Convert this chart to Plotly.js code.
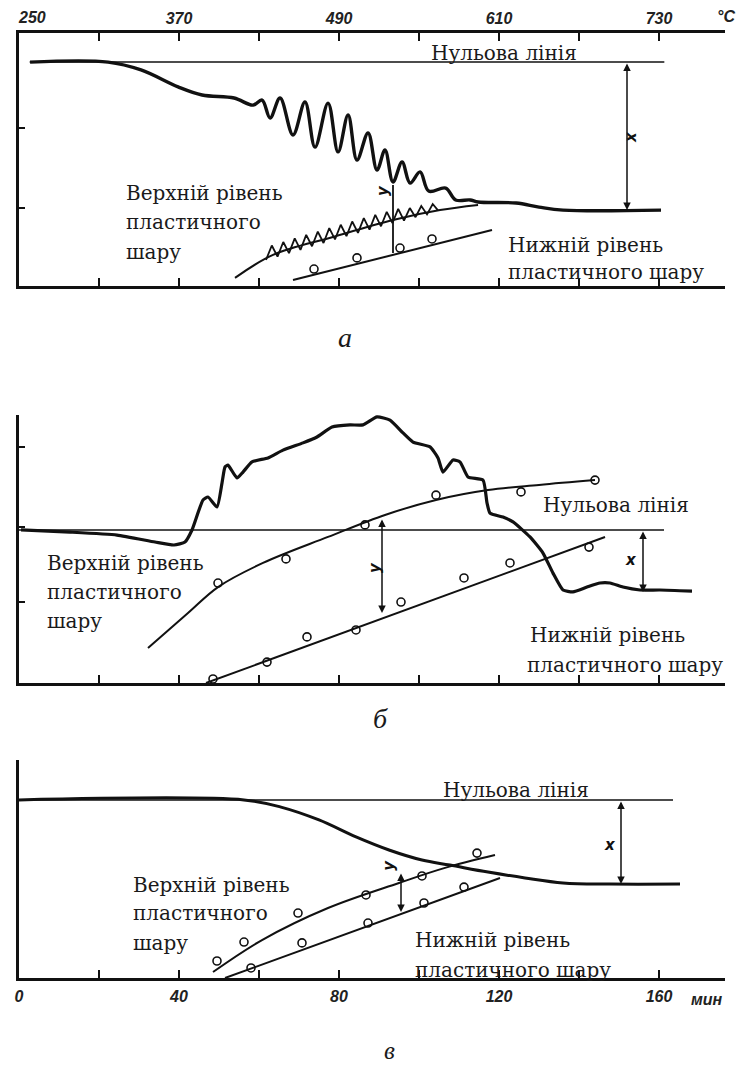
<!DOCTYPE html>
<html><head><meta charset="utf-8">
<script src="https://cdn.plot.ly/plotly-3.0.1.min.js"></script>
<style>html,body{margin:0;padding:0;background:#fff}#chart{width:736px;height:1070px}</style>
</head><body><div id="chart"></div>
<script>
// ---------- Panel а (x: temperature, °C; y: relative level 0–100) ----------
const aTopTickVals = [250, 370, 490, 610, 730];
const aTopTickText = ['', '370', '490', '610', '730'];
const aFirstTickText = '250';
const aLeftTicks = [31, 62.5];
const aZeroT = [258, 734];
const aZeroY = [88.5, 88.5];
const aCurveT = [258.3, 316.8, 341.5, 369.3, 387.3, 411.3, 425.5, 432.3, 438.3, 445.8, 455.5, 464.5, 472, 481.8, 489.3, 496.8, 503.5, 511.8, 518.5, 524.5, 530.5, 537.3, 543.3, 550.8, 557.3, 570, 577.5, 588.3, 594.3, 622.8, 640, 658, 731.5];
const aCurveY = [88.5, 88.5, 85.4, 78.7, 75.5, 74.3, 71.5, 73.5, 66.4, 74.3, 59.7, 72.7, 54.9, 72.3, 53.0, 67.6, 49.8, 60.5, 45.8, 53.8, 41.1, 49.0, 40.7, 45.1, 37.5, 38.7, 34.0, 34.0, 33.2, 32.8, 31.2, 30.0, 30.0];
const aUpperT = [412, 440.5, 485.5, 530.5, 565.8, 594.3];
const aUpperY = [3.2, 12.3, 19.4, 26.1, 30.0, 32.0];
const aZigT = [435.25, 439.6, 443.9, 448.2, 452.5, 456.8, 461.1, 465.4, 469.75, 474.1, 478.4, 482.7, 487, 491.3, 495.6, 499.9, 504.25, 508.6, 512.9, 517.2, 521.5, 525.8, 530.1, 534.4, 538.75, 543.1, 547.4, 551.7, 556, 560.3, 564.25];
const aZigY = [10.3, 16.0, 11.6, 17.4, 13.0, 18.8, 14.3, 20.2, 15.7, 21.5, 17.0, 22.9, 18.4, 24.2, 19.7, 25.5, 21.0, 26.8, 22.3, 28.1, 23.6, 29.3, 24.9, 30.5, 25.8, 30.8, 27.2, 31.6, 28.3, 32.4, 29.9];
const aLowerT = [455.5, 604.75];
const aLowerY = [2.4, 22.1];
const aLowerPtsT = [471.25, 503.5, 535.75, 559.75];
const aLowerPtsY = [6.7, 11.1, 15.0, 18.6];
const aYMarkT = [530.5, 530.5];
const aYMarkY = [13.0, 39.9];

// ---------- Panel б ----------
const bLeftTicks = [30.2, 58.2, 88.1];
const bZeroT = [250, 733.75];
const bZeroY = [57.1, 57.1];
const bCurveT = [251.5, 288.25, 323.5, 352, 366.25, 374.5, 379.75, 388, 391.75, 398.5, 402.25, 404.5, 406.75, 413.5, 418, 424.75, 436.75, 448, 463, 473.5, 484.75, 498.25, 508, 518.5, 528.25, 538, 545.5, 558.25, 564.25, 568, 575.5, 580.75, 586.75, 598, 601, 603.25, 613, 620.5, 633.25, 643, 650.5, 658, 665.5, 676, 685.75, 693.25, 703, 715.75, 730.75, 754.75];
const bCurveY = [57.1, 56.3, 55.2, 52.6, 51.5, 52.6, 57.1, 68.3, 69.4, 65.7, 74.6, 80.6, 81.3, 76.5, 78.7, 82.5, 84.0, 86.9, 89.6, 91.8, 95.5, 96.3, 96.3, 99.3, 98.1, 93.3, 89.9, 88.1, 84.0, 78.7, 83.2, 82.5, 76.9, 75.7, 67.2, 63.4, 61.9, 60.1, 54.5, 48.5, 41.0, 34.7, 34.0, 35.8, 37.3, 37.3, 35.8, 34.7, 34.7, 34.3];
const bUpperT = [346.75, 376.75, 399.25, 433, 481.75, 524.5, 562.75, 601.75, 640, 682];
const bUpperY = [13.1, 26.1, 35.8, 44.8, 54.5, 62.7, 68.3, 72.0, 73.9, 75.7];
const bUpperPtsT = [399.25, 450.25, 509.5, 562.75, 626.5, 682];
const bUpperPtsY = [37.3, 46.3, 59.0, 70.1, 71.3, 75.7];
const bLowerT = [390.25, 689.5];
const bLowerY = [0, 54.5];
const bLowerPtsT = [395.5, 436, 466, 502.75, 536.5, 583.75, 618.25, 677.5];
const bLowerPtsY = [1.5, 7.8, 17.2, 19.8, 30.2, 39.2, 44.8, 50.7];

// ---------- Panel в (x: time, min) ----------
const cTickVals = [0, 20, 40, 60, 80, 100, 120, 140, 160];
const cTickText = ['0', '', '40', '', '80', '', '120', '', '160'];
const cZeroT = [0, 163.5];
const cZeroY = [81.7, 81.7];
const cCurveT = [0, 56.25, 65.5, 75, 84.25, 92.5, 100.75, 107.75, 117.25, 126.5, 136, 147.75, 165.25];
const cCurveY = [81.7, 81.7, 78.4, 72.5, 64.7, 58.7, 54.1, 51.8, 48.6, 45.9, 43.6, 43.1, 43.1];
const cUpperT = [48.5, 60.75, 77.25, 95, 106.5, 119];
const cUpperY = [2.75, 17.4, 32.1, 43.6, 50.5, 56.4];
const cUpperPtsT = [49.5, 56.25, 69.75, 86.75, 100.75, 114.5];
const cUpperPtsY = [7.8, 16.5, 29.8, 38.1, 46.8, 57.3];
const cLowerT = [51.5, 120.25];
const cLowerY = [0, 45.9];
const cLowerPtsT = [58, 70.75, 87.25, 101.25, 111.25];
const cLowerPtsY = [4.6, 16.1, 25.2, 34.4, 41.7];

const ink = '#111';
const W = 736, H = 1070;
const px = v => v / W, py = v => 1 - v / H;

function ln(x, y, xa, ya, w, smooth) {
  return {x, y, xaxis: xa, yaxis: ya, mode: 'lines', hoverinfo: 'skip',
    line: {color: ink, width: w, shape: smooth ? 'spline' : 'linear', smoothing: smooth || 0}};
}
function pts(x, y, xa, ya) {
  return {x, y, xaxis: xa, yaxis: ya, mode: 'markers', hoverinfo: 'skip',
    marker: {symbol: 'circle-open', size: 8, color: ink, line: {width: 1.6, color: ink}}};
}

const traces = [
  ln(aZeroT, aZeroY, 'x4', 'y', 1.5),
  ln(aCurveT, aCurveY, 'x', 'y', 3.4, 1),
  ln(aUpperT, aUpperY, 'x', 'y', 2, 1),
  ln(aZigT, aZigY, 'x', 'y', 1.8),
  ln(aLowerT, aLowerY, 'x', 'y', 2),
  pts(aLowerPtsT, aLowerPtsY, 'x', 'y'),
  ln(aYMarkT, aYMarkY, 'x', 'y', 1.8),

  ln(bZeroT, bZeroY, 'x2', 'y2', 1.5),
  ln(bCurveT, bCurveY, 'x2', 'y2', 3.2, 0.5),
  ln(bUpperT, bUpperY, 'x2', 'y2', 2, 1),
  pts(bUpperPtsT, bUpperPtsY, 'x2', 'y2'),
  ln(bLowerT, bLowerY, 'x2', 'y2', 2),
  pts(bLowerPtsT, bLowerPtsY, 'x2', 'y2'),

  ln(cZeroT, cZeroY, 'x3', 'y3', 1.5),
  ln(cCurveT, cCurveY, 'x3', 'y3', 3, 1),
  ln(cUpperT, cUpperY, 'x3', 'y3', 2, 1),
  pts(cUpperPtsT, cUpperPtsY, 'x3', 'y3'),
  ln(cLowerT, cLowerY, 'x3', 'y3', 2),
  pts(cLowerPtsT, cLowerPtsY, 'x3', 'y3')
];

const xDom = [px(19), px(725)];
const tickFont = {family: 'Liberation Sans', style: 'italic', weight: 'bold', size: 16, color: '#222'};
const baseAx = {showline: true, linewidth: 3, linecolor: ink, showgrid: false, zeroline: false,
  ticks: 'inside', tickcolor: ink, tickwidth: 2, showticklabels: false, fixedrange: true};

const layout = {
  width: W, height: H, margin: {l: 0, r: 0, t: 0, b: 0},
  paper_bgcolor: '#fff', plot_bgcolor: 'rgba(0,0,0,0)', showlegend: false,
  font: {family: 'DejaVu Serif', color: '#1a1a1a'},
  xaxis: Object.assign({}, baseAx, {domain: xDom, range: [250, 779.5], anchor: 'y', mirror: 'ticks', tick0: 250, dtick: 60, ticklen: 8}),
  xaxis4: {overlaying: 'x', side: 'top', anchor: 'y', range: [250, 779.5], tickmode: 'array',
    tickvals: aTopTickVals, ticktext: aTopTickText, ticks: '', showline: false, showgrid: false, zeroline: false,
    ticklabelstandoff: 5, tickfont: tickFont, fixedrange: true},
  yaxis: Object.assign({}, baseAx, {domain: [py(286), py(33)], range: [0, 100], anchor: 'x', tickmode: 'array', tickvals: aLeftTicks, ticklen: 6}),

  xaxis2: Object.assign({}, baseAx, {domain: xDom, range: [250, 779.5], anchor: 'y2', tick0: 250, dtick: 60, ticklen: 8}),
  yaxis2: Object.assign({}, baseAx, {domain: [py(683), py(415)], range: [0, 100], anchor: 'x2', tickmode: 'array', tickvals: bLeftTicks, ticklen: 6}),

  xaxis3: Object.assign({}, baseAx, {domain: xDom, range: [0, 176.5], anchor: 'y3', tickmode: 'array',
    tickvals: cTickVals, ticktext: cTickText, ticklen: 8, showticklabels: true, ticklabelstandoff: 2,
    tickfont: tickFont}),
  yaxis3: Object.assign({}, baseAx, {domain: [py(978), py(760)], range: [0, 100], anchor: 'x3', ticks: ''}),
  annotations: []
};

const A = layout.annotations;
function txt(xr, yr, x, y, text, anchor) {
  A.push({xref: xr, yref: yr, x, y, text, showarrow: false, xanchor: anchor || 'left', yanchor: 'middle',
    font: {family: 'DejaVu Serif', size: 20, color: '#1a1a1a'}});
}
function sym(xr, yr, x, y, t, angle) {
  A.push({xref: xr, yref: yr, x, y, text: t, showarrow: false, textangle: angle || 0, xanchor: 'center', yanchor: 'middle',
    font: {family: 'DejaVu Sans', style: 'italic', weight: 'bold', size: 15, color: ink}});
}
function paperTxt(x, y, t, font) {
  A.push({xref: 'paper', yref: 'paper', x: px(x), y: py(y), text: t, showarrow: false,
    xanchor: 'center', yanchor: 'middle', font});
}
function arrow(xr, yr, x, y0, y1) {
  A.push({xref: xr, yref: yr, axref: xr, ayref: yr, x, y: y1, ax: x, ay: y0, text: '', showarrow: true,
    arrowhead: 2, arrowside: 'end+start', arrowsize: 1, arrowwidth: 1.5, arrowcolor: ink, standoff: 0, startstandoff: 0});
}
const letterFont = {family: 'Liberation Serif', style: 'italic', size: 28, color: '#1a1a1a'};

// Panel а
paperTxt(32, 18, aFirstTickText, tickFont);
paperTxt(726, 17, '°C', tickFont);
txt('x', 'y', 613.75, 92.1, 'Нульова лінія', 'center');
txt('x', 'y', 328.75, 36.8, 'Верхній рівень');
txt('x', 'y', 328.75, 25.3, 'пластичного');
txt('x', 'y', 328.75, 13.4, 'шару');
txt('x', 'y', 615.25, 16.2, 'Нижній рівень');
txt('x', 'y', 615.25, 5.5, 'пластичного шару');
arrow('x', 'y', 706, 88.5, 30.0);
sym('x', 'y', 709, 58.9, 'x', -90);
sym('x', 'y', 523, 37.5, 'y', -90);
paperTxt(345, 337, 'а', letterFont);

// Panel б
txt('x2', 'y2', 697.75, 66.4, 'Нульова лінія', 'center');
txt('x2', 'y2', 269.5, 44.8, 'Верхній рівень');
txt('x2', 'y2', 269.5, 34.0, 'пластичного');
txt('x2', 'y2', 269.5, 23.1, 'шару');
txt('x2', 'y2', 631.75, 17.9, 'Нижній рівень');
txt('x2', 'y2', 629.5, 6.7, 'пластичного шару');
arrow('x2', 'y2', 522.25, 61.6, 26.1);
arrow('x2', 'y2', 718, 57.1, 34.0);
sym('x2', 'y2', 517, 42.9, 'y', -90);
sym('x2', 'y2', 709, 45.9, 'x', 0);
paperTxt(380, 718, 'б', letterFont);

// Panel в
txt('x3', 'y3', 124.25, 86.2, 'Нульова лінія', 'center');
txt('x3', 'y3', 28, 42.7, 'Верхній рівень');
txt('x3', 'y3', 28, 29.8, 'пластичного');
txt('x3', 'y3', 28, 16.1, 'шару');
txt('x3', 'y3', 98.5, 17.4, 'Нижній рівень');
txt('x3', 'y3', 98.5, 3.7, 'пластичного шару');
arrow('x3', 'y3', 150.5, 81.7, 43.1);
arrow('x3', 'y3', 95.5, 48.6, 30.3);
sym('x3', 'y3', 92.5, 51.5, 'y', -90);
sym('x3', 'y3', 147.75, 61, 'x', 0);
paperTxt(707, 999, 'мин', tickFont);
paperTxt(389, 1050, 'в', {family: 'Liberation Serif', style: 'italic', size: 25, color: '#1a1a1a'});

Plotly.newPlot('chart', traces, layout, {displayModeBar: false, staticPlot: true});
</script>
</body></html>
